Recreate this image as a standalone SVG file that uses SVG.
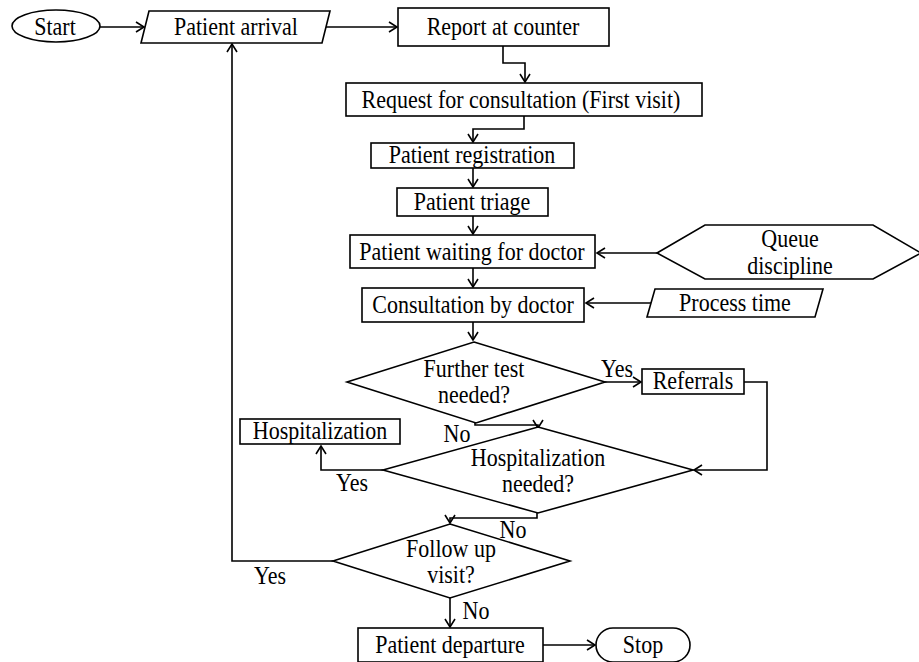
<svg xmlns="http://www.w3.org/2000/svg" width="919" height="662" viewBox="0 0 919 662">
  <style>
    .shape { fill: #ffffff; stroke: #000000; stroke-width: 1.6; }
    .edge { fill: none; stroke: #000000; stroke-width: 1.6; marker-end: url(#arrow); }
    text { font-family: "Liberation Serif", "Times New Roman", serif; font-size: 22px; fill: #000000; text-anchor: middle; dominant-baseline: central; transform-box: fill-box; transform-origin: center; transform: scaleY(1.12); }
  </style>
  <defs>
    <marker id="arrow" viewBox="-9 -6 11 12" refX="0" refY="0" markerWidth="11" markerHeight="12" markerUnits="userSpaceOnUse" orient="auto">
      <path d="M-8,-5 L0,0 L-8,5" fill="none" stroke="#000000" stroke-width="1.6"/>
    </marker>
  </defs>
  <rect width="919" height="662" fill="#ffffff"/>

  <!-- connectors and their branch labels -->
  <g id="connectors">
    <line class="edge" x1="100" y1="27" x2="144" y2="27"/>
    <line class="edge" x1="326" y1="27" x2="397" y2="27"/>
    <polyline class="edge" points="503,46 503,63 525,63 525,82"/>
    <polyline class="edge" points="524,116 524,129 473,129 473,142"/>
    <line class="edge" x1="473" y1="168" x2="473" y2="187"/>
    <line class="edge" x1="473" y1="216" x2="473" y2="234"/>
    <line class="edge" x1="657" y1="253" x2="597" y2="253"/>
    <line class="edge" x1="473" y1="268" x2="473" y2="287"/>
    <line class="edge" x1="651" y1="303" x2="586" y2="303"/>
    <line class="edge" x1="473" y1="322" x2="473" y2="340"/>
    <line class="edge" x1="605" y1="382" x2="641" y2="382"/>
    <polyline class="edge" points="744,382 767,382 767,470 694,470"/>
    <polyline class="edge" points="475,423 475,425 538,425 538,428"/>
    <polyline class="edge" points="383,470 321,470 321,446"/>
    <polyline class="edge" points="537,513 537,518 450,518 450,523"/>
    <polyline class="edge" points="333,561 232,561 232,44"/>
    <line class="edge" x1="450" y1="598" x2="450" y2="627"/>
    <line class="edge" x1="543" y1="645" x2="595" y2="645"/>
    <text x="617" y="369">Yes</text>
    <text x="457" y="434">No</text>
    <text x="352" y="483">Yes</text>
    <text x="513" y="530">No</text>
    <text x="270" y="576">Yes</text>
    <text x="476" y="611">No</text>
  </g>

  <g id="start">
    <ellipse class="shape" cx="56" cy="26" rx="44" ry="16"/>
    <text x="55" y="27">Start</text>
  </g>
  <g id="patient-arrival">
    <polygon class="shape" points="149,11 330,11 322,43 141,43"/>
    <text x="236" y="27">Patient arrival</text>
  </g>
  <g id="report-counter">
    <rect class="shape" x="398" y="8" width="211" height="38"/>
    <text x="503" y="27">Report at counter</text>
  </g>
  <g id="request-consultation">
    <rect class="shape" x="346" y="83" width="356" height="33"/>
    <text x="521" y="100">Request for consultation (First visit)</text>
  </g>
  <g id="registration">
    <rect class="shape" x="371" y="143" width="203" height="25"/>
    <text x="472" y="155">Patient registration</text>
  </g>
  <g id="triage">
    <rect class="shape" x="397" y="188" width="151" height="28"/>
    <text x="472" y="202">Patient triage</text>
  </g>
  <g id="waiting">
    <rect class="shape" x="350" y="235" width="245" height="33"/>
    <text x="472" y="252">Patient waiting for doctor</text>
  </g>
  <g id="queue-discipline">
    <polygon class="shape" points="657,253 705,225 873,225 921,253 873,279 705,279"/>
    <text x="790" y="239">Queue</text>
    <text x="790" y="266">discipline</text>
  </g>
  <g id="consultation">
    <rect class="shape" x="362" y="288" width="222" height="34"/>
    <text x="473" y="305">Consultation by doctor</text>
  </g>
  <g id="process-time">
    <polygon class="shape" points="655,289 823,289 815,317 647,317"/>
    <text x="735" y="303">Process time</text>
  </g>
  <g id="further-test">
    <polygon class="shape" points="474,342 605,382 476,423 347,382"/>
    <text x="474" y="369">Further test</text>
    <text x="474" y="395">needed?</text>
  </g>
  <g id="referrals">
    <rect class="shape" x="642" y="369" width="102" height="25"/>
    <text x="693" y="381">Referrals</text>
  </g>
  <g id="hospitalization">
    <rect class="shape" x="240" y="419" width="160" height="25"/>
    <text x="320" y="431">Hospitalization</text>
  </g>
  <g id="hospitalization-needed">
    <polygon class="shape" points="538,427 693,470 538,513 383,470"/>
    <text x="538" y="458">Hospitalization</text>
    <text x="538" y="484">needed?</text>
  </g>
  <g id="follow-up">
    <polygon class="shape" points="450,524 570,561 450,598 333,561"/>
    <text x="451" y="549">Follow up</text>
    <text x="451" y="575">visit?</text>
  </g>
  <g id="departure">
    <rect class="shape" x="358" y="628" width="185" height="34"/>
    <text x="450" y="645">Patient departure</text>
  </g>
  <g id="stop">
    <rect class="shape" x="596" y="628" width="94" height="34" rx="17" ry="17"/>
    <text x="643" y="645">Stop</text>
  </g>
</svg>
